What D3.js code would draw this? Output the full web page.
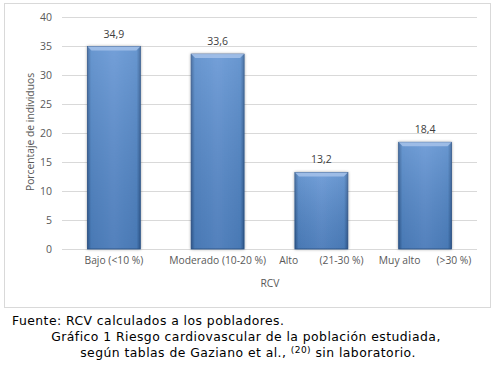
<!DOCTYPE html>
<html><head><meta charset="utf-8">
<script src="https://cdn.jsdelivr.net/npm/d3@7"></script>
<style>body{margin:0;background:#fff}svg{display:block}</style>
</head><body>
<svg id="c" width="496" height="366"></svg>
<script>
const categories = ["Bajo (<10 %)", "Moderado (10-20 %)", "Alto        (21-30 %)", "Muy alto      (>30 %)"];
const values = [34.9, 33.6, 13.2, 18.4];
const valueLabels = ["34,9", "33,6", "13,2", "18,4"];
const yTicks = [0, 5, 10, 15, 20, 25, 30, 35, 40];
const yTitle = "Porcentaje de individuos";
const xTitle = "RCV";
const captionLines = ["Fuente: RCV calculados a los pobladores.",
  "Gráfico 1 Riesgo cardiovascular de la población estudiada,",
  "según tablas de Gaziano et al., ", "(20)", " sin laboratorio."];

const svg = d3.select("#c");
const font = "'Open Sans', 'Noto Sans', sans-serif";

svg.append("rect").attr("x", 4.5).attr("y", 3.5).attr("width", 486).attr("height", 304)
  .attr("fill", "#fff").attr("stroke", "#d9d9d9");

const x = d3.scaleBand().domain(categories).range([62, 477]).paddingInner(0.49).paddingOuter(0.245);
const y = d3.scaleLinear().domain([0, 40]).range([249, 17]);

const defs = svg.append("defs");
const g1 = defs.append("linearGradient").attr("id", "bh").attr("x1", 0).attr("x2", 1).attr("y1", 0).attr("y2", 0);
[[0, "#325f98"], [0.07, "#5086c8"], [0.5, "#5d90d2"], [0.93, "#5086c8"], [1, "#325f98"]]
  .forEach(([o, c]) => g1.append("stop").attr("offset", o).attr("stop-color", c));
const g2 = defs.append("linearGradient").attr("id", "bv").attr("x1", 0).attr("x2", 0).attr("y1", 0).attr("y2", 1);
[[0, "#ffffff", 0.14], [1, "#000000", 0.1]]
  .forEach(([o, c, a]) => g2.append("stop").attr("offset", o).attr("stop-color", c).attr("stop-opacity", a));
const sh = defs.append("filter").attr("id", "sh").attr("x", "-20%").attr("y", "-10%").attr("width", "140%").attr("height", "120%");
sh.append("feGaussianBlur").attr("in", "SourceAlpha").attr("stdDeviation", 1.5).attr("result", "b");
sh.append("feOffset").attr("in", "b").attr("dx", 0).attr("dy", 0).attr("result", "o");
sh.append("feComponentTransfer").attr("in", "o").attr("result", "s")
  .append("feFuncA").attr("type", "linear").attr("slope", 0.35);
const m = sh.append("feMerge");
m.append("feMergeNode").attr("in", "s");
m.append("feMergeNode").attr("in", "SourceGraphic");

// gridlines
svg.append("g").selectAll("line").data(yTicks).join("line")
  .attr("x1", 62).attr("x2", 477).attr("y1", d => Math.round(y(d)) + 0.5).attr("y2", d => Math.round(y(d)) + 0.5)
  .attr("stroke", "#d9d9d9");

// y axis labels
const yAxis = d3.axisLeft(y).tickValues(yTicks).tickSize(0).tickPadding(0);
const ya = svg.append("g").attr("transform", "translate(52,0)").call(yAxis);
ya.select(".domain").remove();
ya.selectAll("text").attr("font-family", font).attr("font-size", 10.5).attr("fill", "#595959");

// bars
const bars = svg.append("g").selectAll("g").data(values).join("g");
bars.append("rect").attr("x", (d, i) => x(categories[i])).attr("y", d => y(d))
  .attr("width", x.bandwidth()).attr("height", d => y(0) - y(d)).attr("fill", "url(#bh)")
  .attr("stroke", "#2c5489").attr("stroke-width", 0.8).attr("filter", "url(#sh)");
bars.append("rect").attr("x", (d, i) => x(categories[i])).attr("y", d => y(d))
  .attr("width", x.bandwidth()).attr("height", d => y(0) - y(d)).attr("fill", "url(#bv)");
bars.append("path").attr("d", (d, i) => {
  const x0 = x(categories[i]), x1 = x0 + x.bandwidth(), t = y(d);
  return `M${x0},${t}L${x1},${t}L${x1 - 4},${t + 4}L${x0 + 4},${t + 4}Z`;
}).attr("fill", "#a6c2ea").attr("opacity", 0.85);

// value labels
svg.append("g").selectAll("text").data(values).join("text")
  .attr("x", (d, i) => x(categories[i]) + x.bandwidth() / 2).attr("y", d => y(d) - 9)
  .attr("text-anchor", "middle").attr("font-family", font).attr("font-size", 10.5).attr("fill", "#404040")
  .text((d, i) => valueLabels[i]);

// x labels
const xAxis = d3.axisBottom(x).tickSize(0).tickPadding(0);
const xa = svg.append("g").attr("transform", "translate(0,257)").call(xAxis);
xa.select(".domain").remove();
xa.selectAll("text").attr("font-family", font).attr("font-size", 10.3).attr("fill", "#595959")
  .attr("dy", "0.71em").style("white-space", "pre").attr("xml:space", "preserve");

svg.append("text").attr("x", 270).attr("y", 287).attr("text-anchor", "middle")
  .attr("font-family", font).attr("font-size", 10.3).attr("fill", "#595959").text(xTitle);
svg.append("text").attr("transform", "translate(30,132) rotate(-90)").attr("dy", "0.35em").attr("text-anchor", "middle")
  .attr("font-family", font).attr("font-size", 10.3).attr("fill", "#595959").text(yTitle);

// caption
const cf = "'DejaVu Sans', Verdana, sans-serif";
const cap = sel => sel.attr("font-family", cf).attr("font-size", 12.4).attr("letter-spacing", 0.45).attr("fill", "#000");
svg.append("text").attr("x", 12).attr("y", 325).call(cap).text(captionLines[0]);
svg.append("text").attr("x", 246).attr("y", 341).attr("text-anchor", "middle").call(cap).text(captionLines[1]);
const t3 = svg.append("text").attr("x", 248).attr("y", 357).attr("text-anchor", "middle").call(cap);
t3.append("tspan").text(captionLines[2]);
t3.append("tspan").attr("font-size", 9).attr("dy", -4).text(captionLines[3]);
t3.append("tspan").attr("dy", 4).text(captionLines[4]);
</script>
</body></html>
